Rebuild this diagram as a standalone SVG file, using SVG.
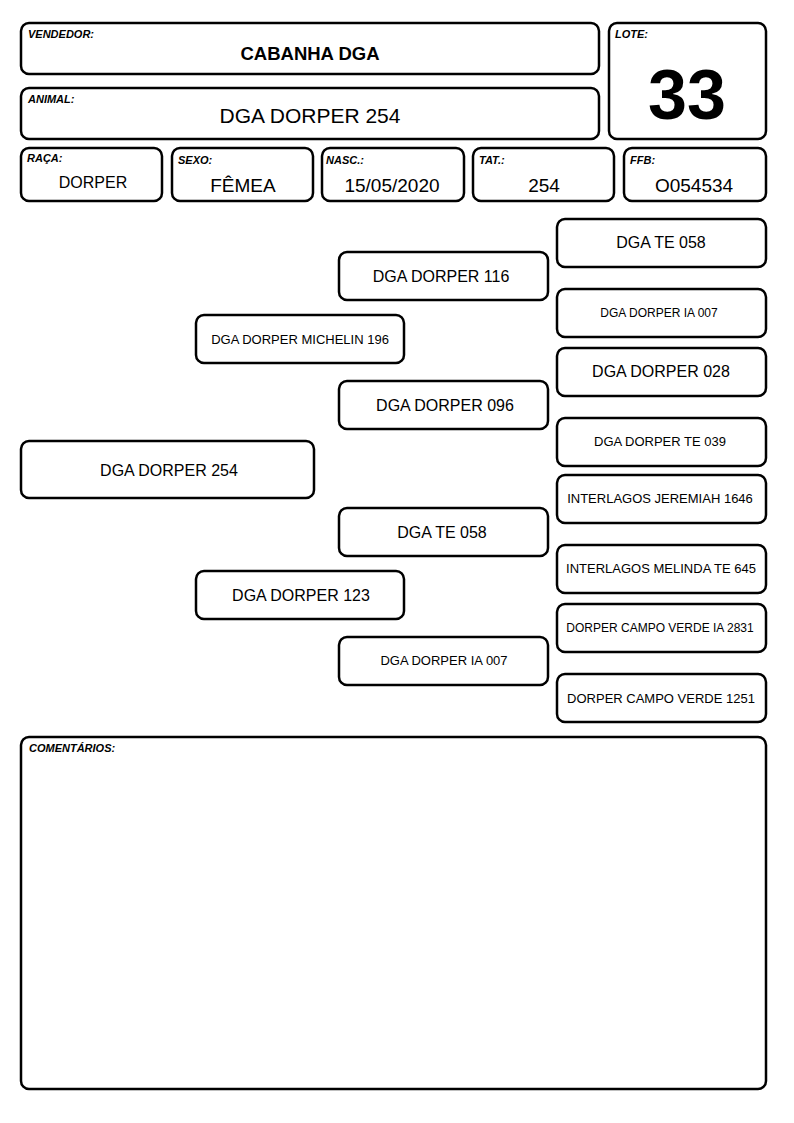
<svg xmlns="http://www.w3.org/2000/svg" width="794" height="1123" viewBox="0 0 794 1123">
<style>
rect{fill:#fff;stroke:#000;stroke-width:2.5}
text{font-family:"Liberation Sans",Arial,sans-serif;fill:#000}
.lbl{font-size:11px;font-weight:bold;font-style:italic}
.c{text-anchor:middle}
.v{font-size:19px}
.p16{font-size:16px}
.p13{font-size:13px}
.p12{font-size:12px}
</style>
<rect width="794" height="1123" fill="#fff" style="stroke:none"/>
<g id="vendedor"><rect x="21" y="23" width="578" height="51" rx="8"/><text class="lbl" x="28" y="38">VENDEDOR:</text><text class="c" x="310" y="60" style="font-size:18.5px;font-weight:bold">CABANHA DGA</text></g>
<g id="animal"><rect x="21" y="88" width="578" height="51" rx="8"/><text class="lbl" x="28" y="103">ANIMAL:</text><text class="c" x="310" y="123" style="font-size:21px">DGA DORPER 254</text></g>
<g id="lote"><rect x="609" y="23" width="157" height="116" rx="8"/><text class="lbl" x="615" y="38">LOTE:</text><text class="c" x="687" y="119" style="font-size:70px;font-weight:bold">33</text></g>
<g id="raca"><rect x="21" y="148" width="141" height="53" rx="8"/><text class="lbl" x="27" y="162">RAÇA:</text><text class="c p16" x="93" y="188">DORPER</text></g>
<g id="sexo"><rect x="172" y="148" width="141" height="53" rx="8"/><text class="lbl" x="178" y="164">SEXO:</text><text class="c v" x="243" y="192">FÊMEA</text></g>
<g id="nasc"><rect x="322" y="148" width="142" height="53" rx="8"/><text class="lbl" x="326" y="164">NASC.:</text><text class="c v" x="392" y="192">15/05/2020</text></g>
<g id="tat"><rect x="473" y="148" width="141" height="53" rx="8"/><text class="lbl" x="479" y="164">TAT.:</text><text class="c v" x="544" y="192">254</text></g>
<g id="ffb"><rect x="624" y="148" width="142" height="53" rx="8"/><text class="lbl" x="630" y="164">FFB:</text><text class="c v" x="694" y="192">O054534</text></g>
<g id="connectors"></g>
<g id="n254"><rect x="21" y="441" width="293" height="57" rx="8"/><text class="c p16" x="169" y="476">DGA DORPER 254</text></g>
<g id="n196"><rect x="196" y="315" width="208" height="48" rx="8"/><text class="c p13" x="300" y="344">DGA DORPER MICHELIN 196</text></g>
<g id="n123"><rect x="196" y="571" width="208" height="48" rx="8"/><text class="c p16" x="301" y="601">DGA DORPER 123</text></g>
<g id="n116"><rect x="339" y="252" width="209" height="48" rx="8"/><text class="c p16" x="441" y="282">DGA DORPER 116</text></g>
<g id="n096"><rect x="339" y="381" width="209" height="48" rx="8"/><text class="c p16" x="445" y="411">DGA DORPER 096</text></g>
<g id="nte058b"><rect x="339" y="508" width="209" height="48" rx="8"/><text class="c p16" x="442" y="538">DGA TE 058</text></g>
<g id="nia007b"><rect x="339" y="637" width="209" height="48" rx="8"/><text class="c p13" x="444" y="665">DGA DORPER IA 007</text></g>
<g id="nte058a"><rect x="557" y="219" width="209" height="48" rx="8"/><text class="c p16" x="661" y="248">DGA TE 058</text></g>
<g id="nia007a"><rect x="557" y="289" width="209" height="48" rx="8"/><text class="c p12" x="659" y="317">DGA DORPER IA 007</text></g>
<g id="n028"><rect x="557" y="348" width="209" height="48" rx="8"/><text class="c p16" x="661" y="377">DGA DORPER 028</text></g>
<g id="nte039"><rect x="557" y="418" width="209" height="48" rx="8"/><text class="c p13" x="660" y="446">DGA DORPER TE 039</text></g>
<g id="n1646"><rect x="557" y="475" width="209" height="48" rx="8"/><text class="c p13" x="660" y="503">INTERLAGOS JEREMIAH 1646</text></g>
<g id="n645"><rect x="557" y="545" width="209" height="48" rx="8"/><text class="c p13" x="661" y="573">INTERLAGOS MELINDA TE 645</text></g>
<g id="n2831"><rect x="557" y="604" width="209" height="48" rx="8"/><text class="c p12" x="660" y="632">DORPER CAMPO VERDE IA 2831</text></g>
<g id="n1251"><rect x="557" y="674" width="209" height="48" rx="8"/><text class="c p13" x="661" y="703">DORPER CAMPO VERDE 1251</text></g>
<g id="comentarios"><rect x="21" y="737" width="745" height="352" rx="8"/><text class="lbl" x="29" y="752">COMENTÁRIOS:</text></g>
</svg>
